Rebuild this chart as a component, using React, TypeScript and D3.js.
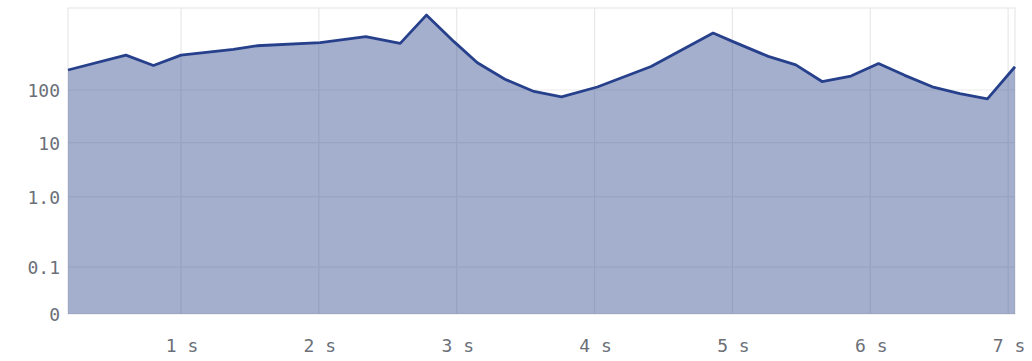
import React from "react";
import * as d3 from "d3";

// time in seconds, value (log-ish y axis)
const times = [0.18, 0.6, 0.8, 1.0, 1.38, 1.55, 2.01, 2.34, 2.59, 2.78, 2.98, 3.15, 3.35, 3.56, 3.76, 4.02, 4.41, 4.86, 5.0, 5.26, 5.46, 5.65, 5.86, 6.06, 6.25, 6.45, 6.65, 6.85, 7.05];
const values = [240, 461, 292, 461, 591, 693, 797, 1035, 769, 2650, 830, 330, 160, 94, 74, 114, 279, 1208, 840, 435, 300, 145, 184, 318, 190, 115, 85, 68, 277];
const xTicks = [1, 2, 3, 4, 5, 6, 7];
const yTicks = [0, 0.1, 1, 10, 100];
const yTickLabels = ["0", "0.1", "1.0", "10", "100"];

const W = 1032;
const H = 361;
const M = { left: 68, right: 17, top: 8, bottom: 47 };
const LINE = "#27408b";

export default function App() {
  const iw = W - M.left - M.right;
  const ih = H - M.top - M.bottom;
  const x = d3.scaleLinear().domain([times[0], times[times.length - 1]]).range([0, iw]);
  // piecewise log scale on log10(value), 0 mapped to the bottom
  const yLog = d3
    .scaleLinear()
    .domain([-1, 0, 1, 2])
    .range([ih * 0.847, ih * 0.6167, ih * 0.44, ih * 0.268]);
  const y = (v: number) => (v <= 0 ? ih : yLog(Math.log10(v)));
  const data = times.map((t, i) => ({ t, v: values[i] }));
  const area = d3
    .area<{ t: number; v: number }>()
    .x((d) => x(d.t))
    .y0(ih)
    .y1((d) => y(d.v));
  const line = d3
    .line<{ t: number; v: number }>()
    .x((d) => x(d.t))
    .y((d) => y(d.v));
  const font = "'DejaVu Sans Mono', monospace";
  return (
    <svg width={W} height={H} style={{ position: "absolute", left: 0, top: 0, background: "#fff" }}>
      <g transform={`translate(${M.left},${M.top})`}>
        <rect x={0} y={0} width={iw} height={ih} fill="none" stroke="#e8e8e8" strokeWidth={1.2} />
        {xTicks.map((t) => (
          <line key={"gx" + t} x1={x(t)} x2={x(t)} y1={0} y2={ih} stroke="#e8e8e8" strokeWidth={1.2} />
        ))}
        {yTicks.filter((v) => v > 0).map((v) => (
          <line key={"gy" + v} x1={0} x2={iw} y1={y(v)} y2={y(v)} stroke="#ececec" strokeWidth={1.2} />
        ))}
        <path d={area(data) || ""} fill={LINE} fillOpacity={0.42} />
        <path d={line(data) || ""} fill="none" stroke={LINE} strokeWidth={2.8} strokeLinejoin="round" />
        {yTicks.map((v, i) => (
          <text
            key={"yl" + v}
            x={-8}
            y={y(v) + 0.5}
            textAnchor="end"
            dominantBaseline="central"
            fontFamily={font}
            fontSize={18}
            fill="#6b6f78"
          >
            {yTickLabels[i]}
          </text>
        ))}
        {xTicks.map((t) => (
          <text
            key={"xl" + t}
            x={x(t) + 1}
            y={ih + 38}
            textAnchor="middle"
            fontFamily={font}
            fontSize={18}
            fill="#6b6f78"
          >
            {`${t} s`}
          </text>
        ))}
      </g>
    </svg>
  );
}
